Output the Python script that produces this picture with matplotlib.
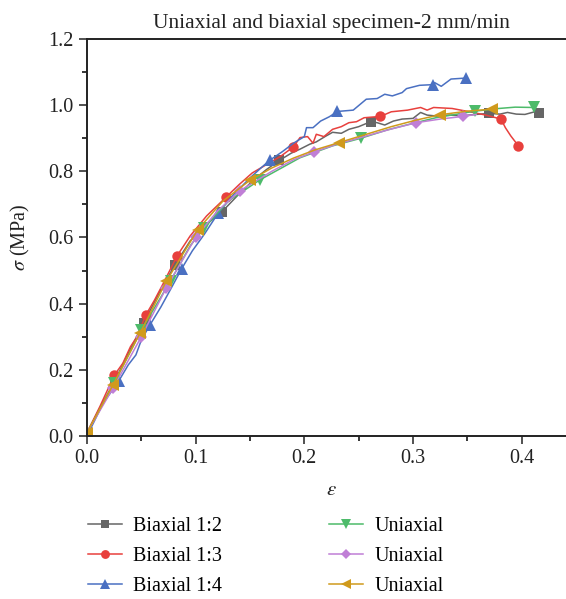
import matplotlib
matplotlib.use("Agg")
import matplotlib.pyplot as plt
from matplotlib.ticker import MultipleLocator

plt.rcParams['font.family'] = ['Liberation Serif', 'DejaVu Serif']
plt.rcParams['mathtext.fontset'] = 'stix'

# Biaxial 1:2
eps_b12 = [0, 0.012, 0.026, 0.038, 0.052, 0.066, 0.081, 0.095, 0.110, 0.124,
           0.138, 0.152, 0.165, 0.177, 0.188, 0.196, 0.205, 0.211, 0.219, 0.226,
           0.234, 0.241, 0.250, 0.261, 0.267, 0.274, 0.282, 0.290, 0.300, 0.307,
           0.313, 0.322, 0.333, 0.345, 0.358, 0.370, 0.380, 0.387, 0.395, 0.403,
           0.412, 0.416]
sig_b12 = [0.01, 0.085, 0.17, 0.25, 0.341, 0.43, 0.518, 0.59, 0.64, 0.677,
           0.725, 0.77, 0.805, 0.833, 0.855, 0.867, 0.882, 0.889, 0.905, 0.918,
           0.915, 0.927, 0.935, 0.950, 0.947, 0.940, 0.952, 0.958, 0.960, 0.978,
           0.970, 0.967, 0.970, 0.968, 0.972, 0.975, 0.973, 0.978, 0.973, 0.972,
           0.980, 0.975]
mk_b12 = [2, 4, 6, 9, 13, 23, 35, 41]

# Biaxial 1:3
eps_b13 = [0, 0.012, 0.025, 0.033, 0.040, 0.046, 0.054, 0.062, 0.070, 0.083,
           0.095, 0.110, 0.128, 0.140, 0.152, 0.165, 0.178, 0.190, 0.196, 0.203,
           0.208, 0.211, 0.218, 0.226, 0.234, 0.241, 0.248, 0.255, 0.270, 0.280,
           0.295, 0.307, 0.313, 0.319, 0.336, 0.352, 0.367, 0.381, 0.385, 0.390,
           0.397]
sig_b13 = [0.01, 0.09, 0.183, 0.22, 0.27, 0.30, 0.365, 0.41, 0.46, 0.545,
           0.605, 0.665, 0.722, 0.76, 0.795, 0.82, 0.845, 0.874, 0.902, 0.905,
           0.885, 0.912, 0.905, 0.927, 0.935, 0.947, 0.950, 0.962, 0.966, 0.980,
           0.985, 0.993, 0.985, 0.993, 0.990, 0.980, 0.970, 0.958, 0.932, 0.907,
           0.877]
mk_b13 = [2, 6, 9, 12, 17, 28, 37, 40]

# Biaxial 1:4
eps_b14 = [0, 0.015, 0.029, 0.038, 0.045, 0.050, 0.058, 0.068, 0.078, 0.087,
           0.097, 0.108, 0.121, 0.135, 0.150, 0.160, 0.168, 0.180, 0.190, 0.196,
           0.200, 0.202, 0.208, 0.215, 0.223, 0.2305, 0.245, 0.257, 0.267, 0.274,
           0.281, 0.290, 0.294, 0.306, 0.318, 0.320, 0.326, 0.335, 0.349]
sig_b14 = [0.0, 0.10, 0.165, 0.215, 0.245, 0.29, 0.336, 0.39, 0.45, 0.505,
           0.56, 0.61, 0.675, 0.73, 0.78, 0.81, 0.833, 0.86, 0.885, 0.897,
           0.905, 0.932, 0.932, 0.952, 0.965, 0.981, 0.985, 1.018, 1.020, 1.033,
           1.028, 1.038, 1.050, 1.060, 1.062, 1.068, 1.057, 1.079, 1.082]
mk_b14 = [2, 6, 9, 12, 16, 25, 34, 38]

# Uniaxial (green)
eps_u1 = [0, 0.025, 0.050, 0.077, 0.095, 0.108, 0.130, 0.159, 0.180, 0.196,
          0.226, 0.252, 0.276, 0.300, 0.321, 0.339, 0.357, 0.379, 0.394, 0.411]
sig_u1 = [0.01, 0.16, 0.32, 0.47, 0.575, 0.63, 0.71, 0.774, 0.812, 0.841,
          0.877, 0.900, 0.925, 0.945, 0.962, 0.972, 0.982, 0.990, 0.994, 0.993]
mk_u1 = [1, 2, 3, 5, 7, 11, 16, 19]

# Uniaxial (purple)
eps_u2 = [0, 0.024, 0.050, 0.073, 0.100, 0.120, 0.141, 0.170, 0.190, 0.209,
          0.230, 0.255, 0.280, 0.303, 0.325, 0.346, 0.358]
sig_u2 = [0.01, 0.145, 0.30, 0.448, 0.60, 0.68, 0.742, 0.80, 0.835, 0.859,
          0.882, 0.905, 0.928, 0.947, 0.958, 0.966, 0.972]
mk_u2 = [0, 1, 2, 3, 4, 6, 9, 13, 15]

# Uniaxial (gold)
eps_u3 = [0, 0.024, 0.049, 0.073, 0.102, 0.125, 0.150, 0.170, 0.190, 0.210,
          0.232, 0.255, 0.280, 0.303, 0.325, 0.350, 0.373]
sig_u3 = [0.01, 0.155, 0.312, 0.468, 0.624, 0.71, 0.773, 0.81, 0.84, 0.865,
          0.887, 0.91, 0.935, 0.955, 0.971, 0.982, 0.988]
mk_u3 = [0, 1, 2, 3, 4, 6, 10, 14, 16]

series = [
    ("Biaxial 1:2", eps_b12, sig_b12, mk_b12, '#666666', 's', 6.5),
    ("Biaxial 1:3", eps_b13, sig_b13, mk_b13, '#e8403d', 'o', 7.5),
    ("Biaxial 1:4", eps_b14, sig_b14, mk_b14, '#4a70c2', '^', 8),
    ("Uniaxial", eps_u1, sig_u1, mk_u1, '#4dbb6a', 'v', 8),
    ("Uniaxial", eps_u2, sig_u2, mk_u2, '#c07fd6', 'D', 6.5),
    ("Uniaxial", eps_u3, sig_u3, mk_u3, '#d09a1c', '<', 8),
]

fig = plt.figure(figsize=(5.66, 5.99), dpi=100)
ax = fig.add_axes([87 / 566, 163 / 599, 489 / 566, 397 / 599])

for label, x, y, mk, col, m, ms in series:
    ax.plot(x, y, color=col, lw=1.1, marker=m, markersize=ms, markevery=mk,
            markeredgewidth=0, label=label)

ax.set_xlim(0, 0.45)
ax.set_ylim(0, 1.2)
ax.xaxis.set_major_locator(MultipleLocator(0.1))
ax.xaxis.set_minor_locator(MultipleLocator(0.05))
ax.yaxis.set_major_locator(MultipleLocator(0.2))
ax.yaxis.set_minor_locator(MultipleLocator(0.1))
ax.set_xticks([0, 0.1, 0.2, 0.3, 0.4])
ax.set_xticklabels(['0.0', '0.1', '0.2', '0.3', '0.4'])
ax.set_yticklabels(['%.1f' % v for v in ax.get_yticks()])
ax.tick_params(which='major', direction='out', length=6, width=1.1, labelsize=14.5, colors='#222222')
ax.tick_params(which='minor', direction='out', length=3.5, width=1.1)
for sp in ax.spines.values():
    sp.set_linewidth(1.4)
    sp.set_color('#222222')

ax.set_title("Uniaxial and biaxial specimen-2 mm/min", fontsize=15.5, pad=8, color='#222222')
ax.set_xlabel(r"$\varepsilon$", fontsize=15, labelpad=9, color='#222222')
ax.set_ylabel(r"$\sigma$ (MPa)", fontsize=14.5, labelpad=12, color='#222222')

fig.legend(loc='upper left', bbox_to_anchor=(88 / 566, 1 - 517 / 599), ncol=2,
           frameon=False, fontsize=14.5, handlelength=1.7, handletextpad=0.55,
           columnspacing=5.3, labelspacing=0.55, borderpad=0, borderaxespad=0,
           markerscale=0.85)

fig.savefig("out.png", dpi=100)
